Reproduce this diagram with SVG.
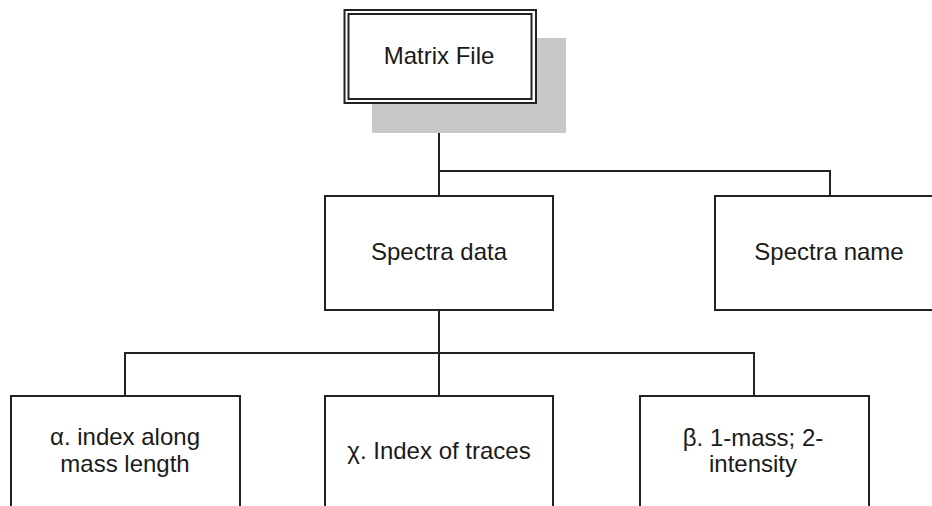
<svg xmlns="http://www.w3.org/2000/svg" width="932" height="506" viewBox="0 0 932 506">
  <style>
    .box { fill: #ffffff; stroke: #222222; stroke-width: 2; }
    .wire { fill: none; stroke: #222222; stroke-width: 2; }
    .label { font-family: "Liberation Sans", Arial, sans-serif; font-size: 24px; fill: #1a1a1a; text-anchor: middle; }
  </style>
  <rect width="932" height="506" fill="#ffffff"/>

  <!-- connectors -->
  <g id="connectors">
    <path class="wire" d="M439 103 V196"/>
    <path class="wire" d="M439 171 H830 V196"/>
    <path class="wire" d="M439 310 V396"/>
    <path class="wire" d="M125 396 V353 H754 V396"/>
  </g>

  <!-- root node with drop shadow and double border -->
  <g id="matrix-file">
    <rect x="372" y="38" width="194" height="95" fill="#c8c8c8"/>
    <rect class="box" x="344.5" y="10" width="191.5" height="93"/>
    <rect x="348.5" y="14" width="183" height="85" fill="none" stroke="#222222" stroke-width="2"/>
    <text class="label" x="439" y="64">Matrix File</text>
  </g>

  <g id="spectra-data">
    <rect class="box" x="325" y="196" width="228" height="114"/>
    <text class="label" x="439" y="260">Spectra data</text>
  </g>

  <g id="spectra-name">
    <rect class="box" x="715" y="196" width="228" height="114"/>
    <text class="label" x="829" y="260">Spectra name</text>
  </g>

  <g id="index-along-mass">
    <rect class="box" x="11" y="396" width="229" height="120"/>
    <text class="label" x="125" y="445">α. index along</text>
    <text class="label" x="125" y="472">mass length</text>
  </g>

  <g id="index-of-traces">
    <rect class="box" x="325" y="396" width="228" height="120"/>
    <text class="label" x="439" y="459">χ. Index of traces</text>
  </g>

  <g id="mass-intensity">
    <rect class="box" x="640" y="396" width="229" height="120"/>
    <text class="label" x="753" y="446">β. 1-mass; 2-</text>
    <text class="label" x="753" y="472">intensity</text>
  </g>
</svg>
